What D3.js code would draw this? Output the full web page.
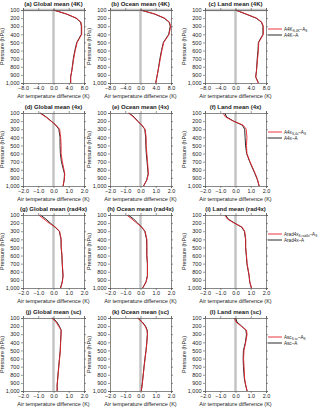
<!DOCTYPE html>
<html>
<head>
<meta charset="utf-8">
<script src="https://cdn.jsdelivr.net/npm/d3@7"></script>
<style>
  body { margin: 0; background: #fff; }
  text { font-family: "Liberation Sans", Arial, sans-serif; fill: #222; }
</style>
</head>
<body>
<div id="chart"></div>
<script>
// pressure levels (hPa)
var levels = [100, 150, 200, 250, 300, 400, 500, 600, 700, 850, 925, 1000];
var yTicks = [100, 200, 300, 400, 500, 600, 700, 800, 900, 1000];

var regions = ['Global', 'Ocean', 'Land'];
var experiments = ['4K', '4x', 'rad4x', 'sc'];
var letters = ['a', 'b', 'c', 'd', 'e', 'f', 'g', 'h', 'i', 'j', 'k', 'l'];

var xTicksWide = [-8, -4, 0, 4, 8];
var xTicksNarrow = [-2, -1, 0, 1, 2];

// red = A..(S,..) - A(S) ; black = A.. - A ; columns: global, ocean, land
var red4K = [
  [0, 3.5, 6.0, 7.2, 7.4, 7.4, 6.2, 5.7, 5.3, 4.8, 4.5, 4.5],
  [0, 3.8, 6.3, 7.6, 7.9, 7.5, 6.1, 5.6, 5.2, 4.6, 4.3, 4.0],
  [0, 2.8, 5.5, 6.9, 7.3, 7.3, 6.1, 6.0, 5.8, 5.5, 5.3, 6.0]
];
var black4K = [
  [0, 3.4, 5.9, 7.1, 7.3, 7.3, 6.1, 5.6, 5.2, 4.8, 4.5, 4.5],
  [0, 3.7, 6.2, 7.5, 7.8, 7.4, 6.0, 5.5, 5.1, 4.6, 4.3, 4.0],
  [0, 2.7, 5.4, 6.8, 7.2, 7.2, 6.0, 5.9, 5.7, 5.5, 5.3, 6.0]
];
var red4x = [
  [-0.9, -0.5, -0.17, 0.17, 0.40, 0.47, 0.50, 0.50, 0.58, 0.74, 0.70, 0.63],
  [-0.8, -0.45, -0.20, 0.10, 0.30, 0.37, 0.37, 0.42, 0.46, 0.52, 0.42, 0.20],
  [-0.83, -0.65, -0.15, 0.50, 0.70, 0.75, 0.72, 0.75, 0.95, 1.30, 1.45, 1.55]
];
var black4x = [
  [-0.85, -0.47, -0.15, 0.15, 0.35, 0.43, 0.43, 0.45, 0.52, 0.72, 0.70, 0.63],
  [-0.75, -0.42, -0.18, 0.08, 0.28, 0.34, 0.35, 0.38, 0.43, 0.50, 0.41, 0.20],
  [-0.70, -0.58, -0.12, 0.45, 0.60, 0.63, 0.66, 0.73, 0.93, 1.28, 1.44, 1.55]
];
var redRad4x = [
  [-0.97, -0.63, -0.29, 0.13, 0.40, 0.51, 0.51, 0.56, 0.58, 0.63, 0.58, 0.47],
  [-0.90, -0.57, -0.24, 0.09, 0.30, 0.42, 0.42, 0.42, 0.46, 0.46, 0.37, 0.15],
  [-0.70, -0.53, -0.08, 0.44, 0.60, 0.67, 0.67, 0.72, 0.76, 0.90, 0.94, 1.05]
];
var blackRad4x = [
  [-0.85, -0.50, -0.20, 0.10, 0.38, 0.49, 0.50, 0.55, 0.57, 0.62, 0.57, 0.46],
  [-0.80, -0.45, -0.18, 0.07, 0.28, 0.40, 0.41, 0.41, 0.45, 0.45, 0.36, 0.14],
  [-0.65, -0.48, -0.05, 0.40, 0.58, 0.66, 0.66, 0.71, 0.75, 0.89, 0.93, 1.04]
];
var redSc = [
  [-0.12, 0.17, 0.33, 0.50, 0.50, 0.47, 0.45, 0.40, 0.35, 0.28, 0.24, 0.24],
  [-0.20, 0.09, 0.30, 0.42, 0.46, 0.42, 0.37, 0.30, 0.24, 0.15, 0.11, 0.05],
  [-0.08, 0.03, 0.37, 0.72, 0.76, 0.67, 0.56, 0.53, 0.56, 0.60, 0.67, 0.76]
];
var blackSc = [
  [-0.05, 0.22, 0.38, 0.50, 0.49, 0.46, 0.44, 0.39, 0.34, 0.27, 0.24, 0.24],
  [-0.15, 0.12, 0.33, 0.44, 0.45, 0.41, 0.36, 0.29, 0.23, 0.15, 0.11, 0.05],
  [0.0, 0.10, 0.40, 0.68, 0.72, 0.65, 0.52, 0.50, 0.52, 0.58, 0.66, 0.76]
];

var redRows = [red4K, red4x, redRad4x, redSc];
var blackRows = [black4K, black4x, blackRad4x, blackSc];

var width = 320, height = 409;
var rowTops = [10, 113, 215, 318];
var colLefts = [23, 110, 205];
var pw = 61, ph = 73;

var svg = d3.select('#chart').append('svg')
  .attr('width', width)
  .attr('height', height);

var line = function(x, y, vals) {
  return d3.line()
    .x(function(d) { return x(d); })
    .y(function(d, i) { return y(levels[i]); })(vals);
};

// legend label with subscripts, done with dy so the baseline comes back
function legendLabel(g, base, sub, tail, tailSub) {
  var t = g.append('text').style('font-size', '4.6px');
  t.append('tspan').text(base);
  if (sub) {
    t.append('tspan').attr('dy', 1).style('font-size', '3.2px').text(sub);
    t.append('tspan').attr('dy', -1).text(tail);
    t.append('tspan').attr('dy', 1).style('font-size', '3.2px').text(tailSub);
  } else {
    t.append('tspan').text(tail);
  }
  return t;
}

experiments.forEach(function(exp, r) {
  var wide = r === 0;
  var ticksX = wide ? xTicksWide : xTicksNarrow;
  regions.forEach(function(reg, c) {
    var left = colLefts[c], top = rowTops[r];
    var x = d3.scaleLinear().domain([ticksX[0], ticksX[4]]).range([0, pw]);
    var y = d3.scaleLinear().domain([100, 1000]).range([0, ph]);
    var g = svg.append('g').attr('transform', 'translate(' + left + ',' + top + ')');

    // zero line
    g.append('line')
      .attr('x1', x(0)).attr('x2', x(0))
      .attr('y1', 0).attr('y2', ph)
      .attr('stroke', '#c4c4c4').attr('stroke-width', 2.5);
    if (wide) {
      g.append('line')
        .attr('x1', 0).attr('x2', pw).attr('y1', 0).attr('y2', 0)
        .attr('stroke', '#c4c4c4').attr('stroke-width', 2.5);
    }

    g.append('path')
      .attr('d', line(x, y, blackRows[r][c]))
      .attr('fill', 'none').attr('stroke', '#111').attr('stroke-width', 0.9);
    g.append('path')
      .attr('d', line(x, y, redRows[r][c]))
      .attr('fill', 'none').attr('stroke', '#e8202a').attr('stroke-width', 0.9);

    var fmt = d3.format('.1f');
    g.append('g').attr('transform', 'translate(0,' + ph + ')')
      .call(d3.axisBottom(x).tickValues(ticksX).tickSize(2).tickPadding(1.5).tickFormat(fmt));
    g.append('g')
      .call(d3.axisTop(x).tickValues(ticksX).tickSize(2).tickFormat(''));
    g.append('g')
      .call(d3.axisLeft(y).tickValues(yTicks).tickSize(2).tickPadding(1.5));
    g.append('g').attr('transform', 'translate(' + pw + ',0)')
      .call(d3.axisRight(y).tickValues(yTicks).tickSize(2).tickFormat(''));
    g.selectAll('.domain').attr('stroke', '#555').attr('stroke-width', 0.7);
    g.selectAll('.tick line').attr('stroke', '#555').attr('stroke-width', 0.6);
    g.selectAll('.tick text').style('font-size', '5.5px').attr('fill', '#333');

    g.append('text')
      .attr('x', pw / 2).attr('y', -4)
      .attr('text-anchor', 'middle')
      .style('font-size', '6px').style('font-weight', 'bold')
      .text('(' + letters[r * 3 + c] + ') ' + reg + ' mean (' + exp + ')');

    g.append('text')
      .attr('x', pw / 2).attr('y', ph + 15)
      .attr('text-anchor', 'middle')
      .style('font-size', '5.5px')
      .text('Air temperature difference (K)');

    g.append('text')
      .attr('transform', 'translate(-19,' + (ph / 2) + ') rotate(-90)')
      .attr('text-anchor', 'middle')
      .style('font-size', '5.5px')
      .text('Pressure (hPa)');
  });

  // legend
  var lg = svg.append('g').attr('transform', 'translate(268,' + (rowTops[r] + 19) + ')');
  lg.append('line').attr('x1', 0).attr('x2', 14).attr('y1', 0).attr('y2', 0)
    .attr('stroke', '#e8202a').attr('stroke-width', 0.9);
  lg.append('line').attr('x1', 0).attr('x2', 14).attr('y1', 6).attr('y2', 6)
    .attr('stroke', '#111').attr('stroke-width', 0.9);
  var name = 'A' + exp;
  legendLabel(lg, name, 'S,' + exp, '\u2013A', 'S').attr('x', 16).attr('y', 1.5);
  legendLabel(lg, name, null, '\u2013A').attr('x', 16).attr('y', 7.6);
});
</script>
</body>
</html>
